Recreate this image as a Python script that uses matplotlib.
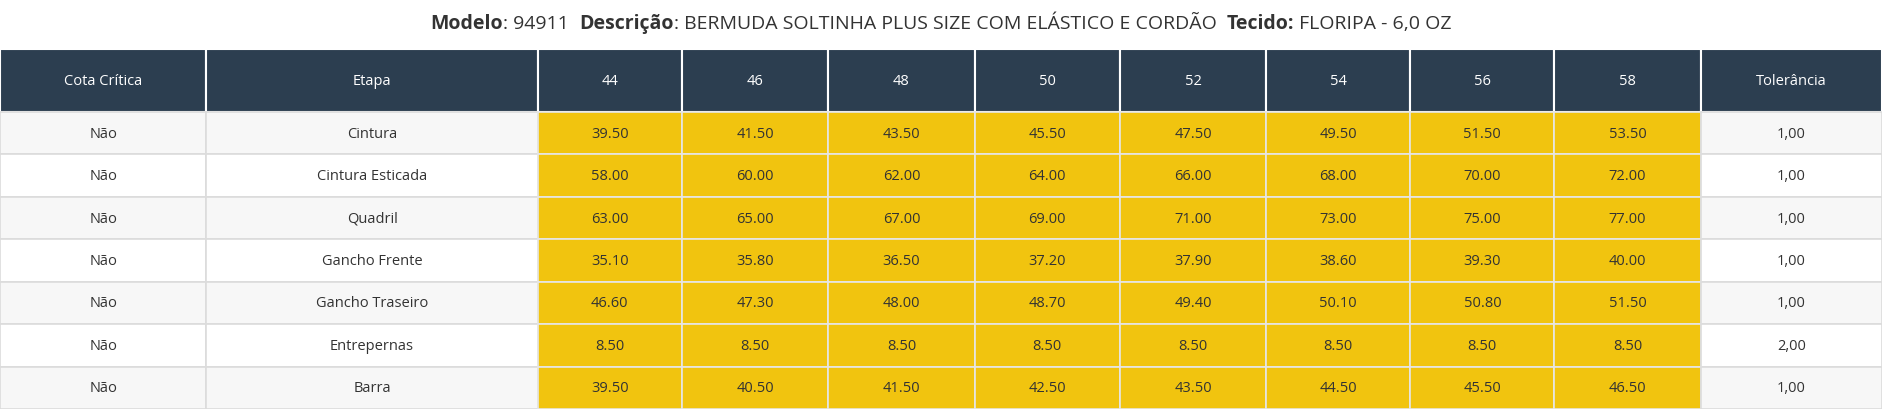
import matplotlib
matplotlib.use("Agg")
import matplotlib.pyplot as plt
from matplotlib.patches import Rectangle

plt.rcParams["font.family"] = ["Open Sans", "DejaVu Sans"]

sizes = ["44", "46", "48", "50", "52", "54", "56", "58"]
etapas = ["Cintura", "Cintura Esticada", "Quadril", "Gancho Frente",
          "Gancho Traseiro", "Entrepernas", "Barra"]
critica = ["Não"] * 7
tolerancia = ["1,00", "1,00", "1,00", "1,00", "1,00", "2,00", "1,00"]
medidas = [
    [39.5, 41.5, 43.5, 45.5, 47.5, 49.5, 51.5, 53.5],
    [58.0, 60.0, 62.0, 64.0, 66.0, 68.0, 70.0, 72.0],
    [63.0, 65.0, 67.0, 69.0, 71.0, 73.0, 75.0, 77.0],
    [35.1, 35.8, 36.5, 37.2, 37.9, 38.6, 39.3, 40.0],
    [46.6, 47.3, 48.0, 48.7, 49.4, 50.1, 50.8, 51.5],
    [8.5, 8.5, 8.5, 8.5, 8.5, 8.5, 8.5, 8.5],
    [39.5, 40.5, 41.5, 42.5, 43.5, 44.5, 45.5, 46.5],
]

W, H = 1568, 341
fig = plt.figure(figsize=(18.82, 4.10), dpi=100)
ax = fig.add_axes([0, 0, 1, 1])
ax.set_xlim(0, W)
ax.set_ylim(H, 0)
ax.axis("off")

col_x = [0, 172, 448, 568, 690, 812, 933, 1055, 1175, 1295, 1417, 1568]
top, head_h = 42, 52
row_h = (H - top - head_h) / len(etapas)
header_col = "#2c3e50"
yellow = "#f1c40f"
line = "#dcdcdc"
txt = "#333333"

headers = ["Cota Crítica", "Etapa"] + sizes + ["Tolerância"]
for j, h in enumerate(headers):
    x0, x1 = col_x[j], col_x[j + 1]
    ax.add_patch(Rectangle((x0, top), x1 - x0, head_h, fc=header_col, ec="white", lw=1.5))
    ax.text((x0 + x1) / 2, top + head_h / 2, h, color="white", ha="center", va="center", fontsize=10.5)

for i, et in enumerate(etapas):
    y0 = top + head_h + i * row_h
    bg = "#f7f7f7" if i % 2 == 0 else "white"
    cells = [critica[i], et] + [f"{v:.2f}" for v in medidas[i]] + [tolerancia[i]]
    for j, c in enumerate(cells):
        x0, x1 = col_x[j], col_x[j + 1]
        fc = yellow if 2 <= j <= 9 else bg
        ec = "#e6e6e6" if 2 <= j <= 9 else line
        ax.add_patch(Rectangle((x0, y0), x1 - x0, row_h, fc=fc, ec=ec, lw=1.2))
        ax.text((x0 + x1) / 2, y0 + row_h / 2, c, color=txt, ha="center", va="center", fontsize=10.5)

# title with mixed weights
parts = [("Modelo", "bold"), (": 94911  ", "normal"), ("Descrição", "bold"),
         (": BERMUDA SOLTINHA PLUS SIZE COM ELÁSTICO E CORDÃO  ", "normal"),
         ("Tecido:", "bold"), (" FLORIPA - 6,0 OZ", "normal")]
fig.canvas.draw()
r = fig.canvas.get_renderer()
widths = []
objs = []
for s, w in parts:
    t = ax.text(0, 20, s, fontsize=14, fontweight=w, color="#333333", va="center", ha="left")
    objs.append(t)
    widths.append(t.get_window_extent(r).width)
total = sum(widths)
xpix = fig.bbox.width / 2 - total / 2
for t, wd in zip(objs, widths):
    t.set_x(xpix * W / fig.bbox.width)
    xpix += wd

fig.savefig("out.png", dpi=100)
